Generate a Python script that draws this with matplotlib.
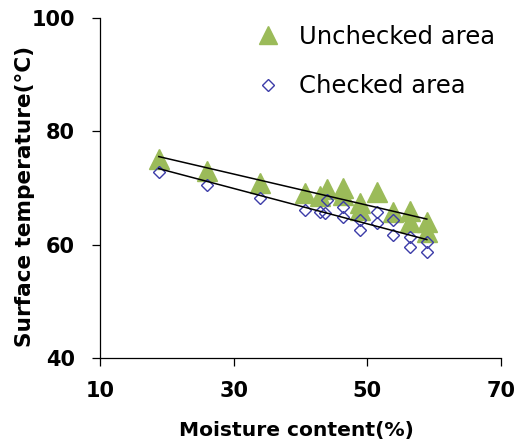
import numpy as np
import matplotlib as mpl
import matplotlib.pyplot as plt

plt.rcParams['font.family'] = ['DejaVu Sans']

# unchecked area (triangles)
moist_u = [18.8, 26.0, 33.9, 40.6, 42.9, 44.0, 46.3, 46.3, 48.9, 48.9, 51.4, 53.8, 56.4, 56.4, 58.9, 58.9]
temp_u = [75.1, 73.0, 70.9, 69.1, 68.6, 69.8, 70.0, 68.8, 67.4, 66.1, 69.3, 65.8, 65.9, 64.0, 64.0, 62.2]
# checked area (diamonds)
moist_c = [18.8, 26.0, 33.9, 40.6, 42.9, 43.7, 44.0, 46.3, 46.3, 48.9, 48.9, 51.4, 51.4, 53.8, 53.8, 56.4, 56.4, 58.9, 58.9]
temp_c = [72.8, 70.5, 68.2, 66.1, 65.8, 65.6, 67.9, 66.6, 64.9, 64.4, 62.6, 65.8, 63.8, 64.4, 61.7, 61.4, 59.6, 60.5, 58.7]

xticks = [10, 30, 50, 70]
yticks = [40, 60, 80, 100]

green = '#9BBB59'
blue = '#3C3CA8'

fig = plt.figure(figsize=(5.16, 4.46), dpi=100)
ax = fig.add_axes([100/516, 1-358/446, 401/516, 340/446])

ax.plot(moist_u, temp_u, '^', color=green, ms=14.4, mec=green, label='Unchecked area', zorder=2)
ax.plot(moist_c, temp_c, 'D', mfc='none', mec=blue, mew=1.0, ms=6.6, label='Checked area', zorder=3)

# linear trend lines
for xs, ys in [(moist_u, temp_u), (moist_c, temp_c)]:
    xs, ys = np.array(xs), np.array(ys)
    k, b = np.polyfit(xs, ys, 1)
    xx = np.array([xs.min(), xs.max()])
    ax.plot(xx, k*xx+b, '-', color='k', lw=1.1, zorder=4)

ax.set_xlim(10, 70)
ax.set_ylim(40, 100)
ax.set_xticks(xticks)
ax.set_yticks(yticks)
for s in ['top', 'right']:
    ax.spines[s].set_visible(False)
for s in ['left', 'bottom']:
    ax.spines[s].set_linewidth(0.9)
ax.tick_params(direction='out', length=5.5, width=0.9, labelsize=15)
ax.tick_params(axis='x', pad=11)
ax.tick_params(axis='y', pad=12.5)
for lab in ax.get_xticklabels() + ax.get_yticklabels():
    lab.set_fontweight('bold')

ax.set_xlabel('Moisture content(%)', fontsize=14.6, fontweight='bold', va='center')
ax.set_ylabel('Surface temperature(\u00b0C)', fontsize=15.6, fontweight='bold', va='center')
ax.xaxis.set_label_coords(0.49, -0.212)
ax.yaxis.set_label_coords(-0.188, 0.474)

leg = ax.legend(loc='upper left', bbox_to_anchor=(0.315, 1.045), frameon=False, fontsize=17.5,
                labelspacing=1.05, handletextpad=0.5, handlelength=1.6, markerscale=0.9)

fig.savefig('out.png', dpi=100)
